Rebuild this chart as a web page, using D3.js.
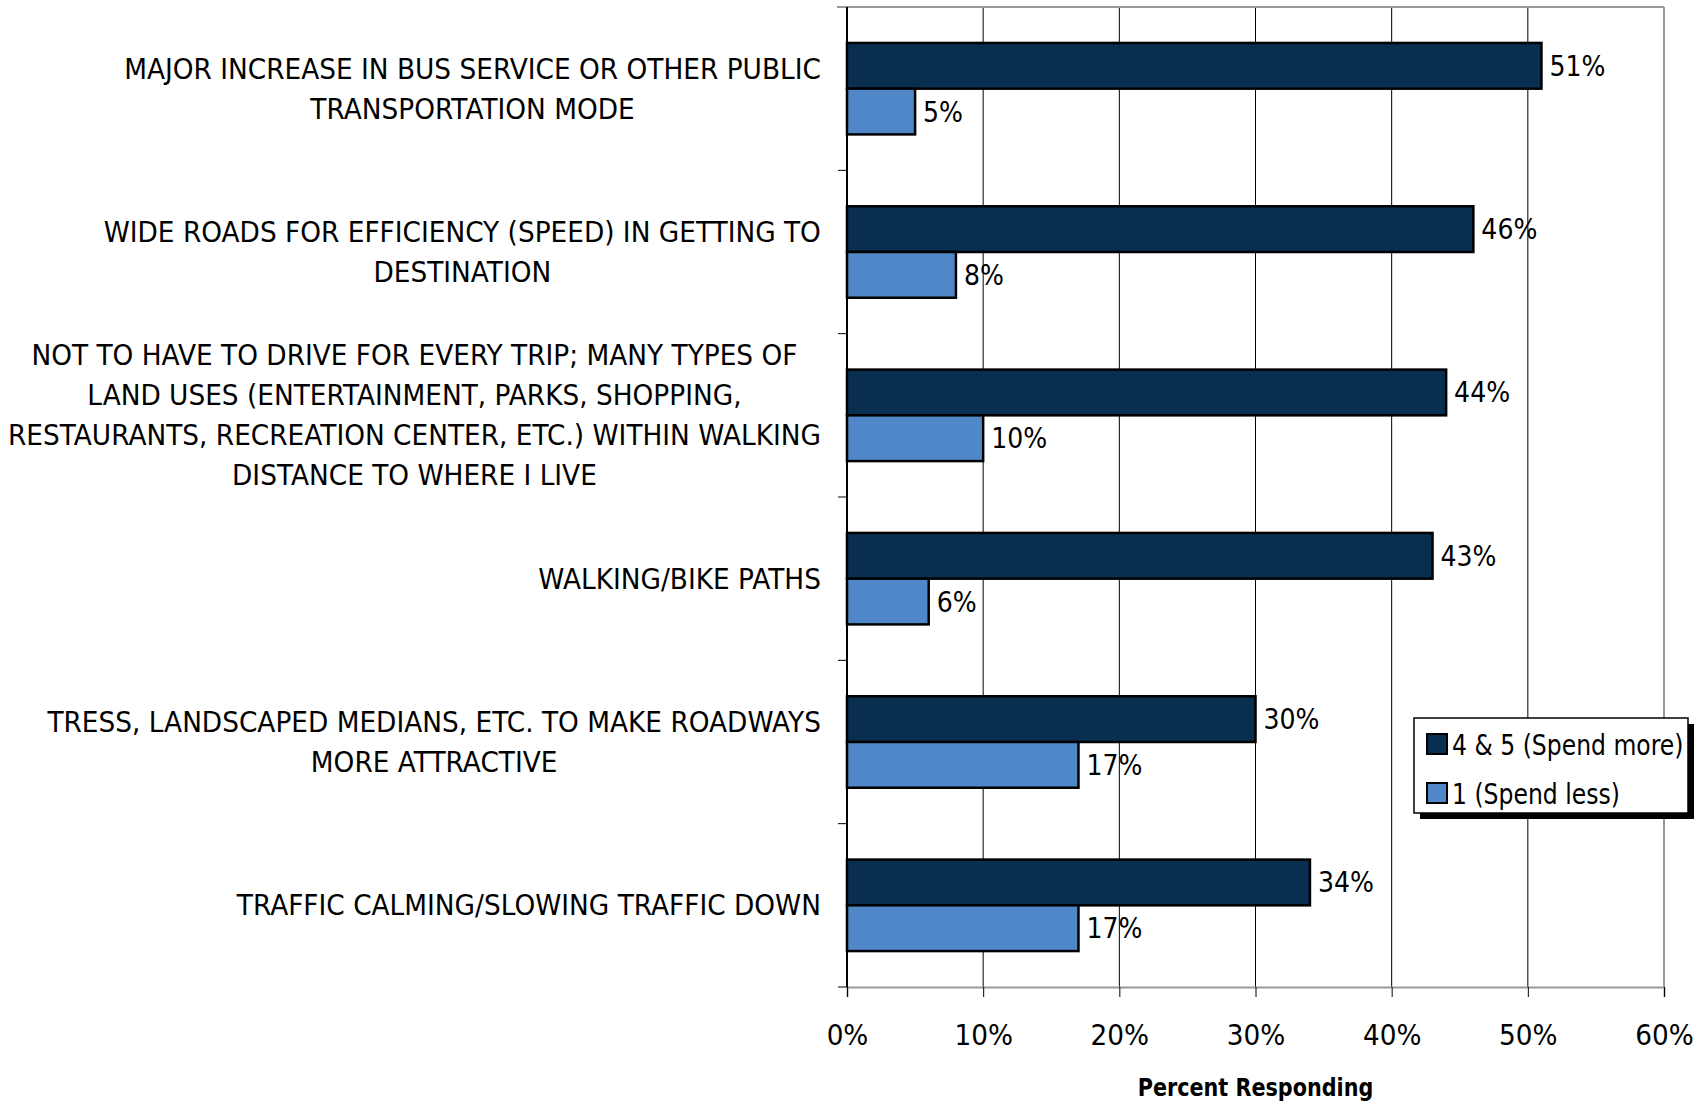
<!DOCTYPE html>
<html>
<head>
<meta charset="utf-8">
<script src="https://cdn.jsdelivr.net/npm/d3@7"></script>
<style>
  html, body { margin: 0; padding: 0; background: #fff; }
  svg { display: block; }
  text { font-family: "DejaVu Sans", sans-serif; fill: #000; }
</style>
</head>
<body>
<svg id="chart" width="1705" height="1105"></svg>
<script>
// Survey items (each entry is one wrapped label, line by line)
const categories = [
  ["MAJOR INCREASE IN BUS SERVICE OR OTHER PUBLIC", "TRANSPORTATION MODE"],
  ["WIDE ROADS FOR EFFICIENCY (SPEED) IN GETTING TO", "DESTINATION"],
  ["NOT TO HAVE TO DRIVE FOR EVERY TRIP; MANY TYPES OF", "LAND USES (ENTERTAINMENT, PARKS, SHOPPING,", "RESTAURANTS, RECREATION CENTER, ETC.) WITHIN WALKING", "DISTANCE TO WHERE I LIVE"],
  ["WALKING/BIKE PATHS"],
  ["TRESS, LANDSCAPED MEDIANS, ETC. TO MAKE ROADWAYS", "MORE ATTRACTIVE"],
  ["TRAFFIC CALMING/SLOWING TRAFFIC DOWN"]
];
const seriesNames = ["4 & 5 (Spend more)", "1 (Spend less)"];
const spendMore = [51, 46, 44, 43, 30, 34];
const spendLess = [5, 8, 10, 6, 17, 17];
const xTicks = [0, 10, 20, 30, 40, 50, 60];
const axisTitle = "Percent Responding";

const colors = ["#082e50", "#5087c8"];
const series = [spendMore, spendLess];

const svg = d3.select("#chart");
const plot = { left: 847, right: 1664, top: 7, bottom: 987 };

const keys = categories.map((c, i) => i);
const x = d3.scaleLinear().domain([0, 60]).range([plot.left, plot.right]);
const y = d3.scaleBand().domain(keys).range([plot.top, plot.bottom]).padding(0);
const bw = y.bandwidth();
const ySub = d3.scaleBand().domain([0, 1]).range([bw * 0.22, bw * 0.78]).padding(0);

// Horizontally squeeze a text node about its anchor point
function squeeze(sel, factor) {
  sel.each(function () {
    const t = d3.select(this);
    const ax = +t.attr("x"), ay = +t.attr("y");
    t.attr("transform", `translate(${ax},${ay}) scale(${factor},1) translate(${-ax},${-ay})`);
  });
}

// Gridlines
svg.append("g").selectAll("line")
  .data(xTicks.slice(1, -1))
  .join("line")
  .attr("x1", d => x(d)).attr("x2", d => x(d))
  .attr("y1", plot.top).attr("y2", plot.bottom)
  .attr("stroke", "#000").attr("stroke-width", 1);

// Frame: top and right in grey
svg.append("line")
  .attr("x1", plot.left - 10).attr("x2", plot.right)
  .attr("y1", plot.top).attr("y2", plot.top)
  .attr("stroke", "#999").attr("stroke-width", 2);
svg.append("line")
  .attr("x1", plot.right).attr("x2", plot.right)
  .attr("y1", plot.top).attr("y2", plot.bottom)
  .attr("stroke", "#999").attr("stroke-width", 2);

// Bars
const groups = svg.append("g").selectAll("g")
  .data(keys).join("g")
  .attr("transform", d => `translate(0,${y(d)})`);

groups.selectAll("rect")
  .data(i => series.map((s, k) => ({ k, v: s[i] })))
  .join("rect")
  .attr("x", x(0))
  .attr("y", d => ySub(d.k))
  .attr("width", d => x(d.v) - x(0))
  .attr("height", ySub.bandwidth())
  .attr("fill", d => colors[d.k])
  .attr("stroke", "#000").attr("stroke-width", 2.5);

// Value labels
const valLabels = groups.selectAll("text.val")
  .data(i => series.map((s, k) => ({ k, v: s[i] })))
  .join("text")
  .attr("class", "val")
  .attr("x", d => x(d.v) + 8)
  .attr("y", d => ySub(d.k) + ySub.bandwidth() / 2 + 10)
  .attr("font-size", 28)
  .text(d => d.v + "%");
squeeze(valLabels, 0.90);

// Bottom axis (grey line, black ticks)
const xAxis = svg.append("g")
  .attr("transform", `translate(0,${plot.bottom})`)
  .call(d3.axisBottom(x).tickValues(xTicks).tickSize(10).tickPadding(22).tickFormat(d => d + "%"));
xAxis.select(".domain").attr("stroke", "#999").attr("stroke-width", 2);
xAxis.selectAll(".tick line").attr("stroke", "#000");
xAxis.selectAll(".tick text")
  .attr("font-size", 28)
  .attr("font-family", "DejaVu Sans, sans-serif")
  .attr("x", 0).attr("y", 58).attr("dy", 0)
  .attr("transform", "scale(0.94,1)");

// Left axis with ticks at category boundaries
const yAxis = svg.append("g");
yAxis.append("line")
  .attr("x1", plot.left).attr("x2", plot.left)
  .attr("y1", plot.top).attr("y2", plot.bottom)
  .attr("stroke", "#000").attr("stroke-width", 2);
yAxis.selectAll("line.tk")
  .data(keys.map(k => y(k)).concat([plot.bottom]).slice(1))
  .join("line").attr("class", "tk")
  .attr("x1", plot.left - 9).attr("x2", plot.left)
  .attr("y1", d => d).attr("y2", d => d)
  .attr("stroke", "#000").attr("stroke-width", 1);

// Category labels: block right-aligned to the axis, lines centred within the block
const labelRight = 821;
const lineH = 40;
const labelFactor = 0.91;
const catG = svg.append("g");
categories.forEach((lines, i) => {
  const g = catG.append("g");
  const cy = y(i) + bw / 2;
  const texts = lines.map((ln, j) => g.append("text")
    .attr("font-size", 29)
    .attr("text-anchor", "middle")
    .attr("y", cy + (j - (lines.length - 1) / 2) * lineH + 10)
    .text(ln));
  const maxW = d3.max(texts, t => t.node().getComputedTextLength()) * labelFactor;
  texts.forEach(t => t.attr("x", labelRight - maxW / 2));
  texts.forEach(t => squeeze(t, labelFactor));
});

// Axis title
const title = svg.append("text")
  .attr("x", x(30)).attr("y", 1096)
  .attr("text-anchor", "middle")
  .attr("font-size", 25)
  .attr("font-weight", "bold")
  .text(axisTitle);
squeeze(title, 0.83);

// Legend with drop shadow
const lg = { x: 1414, y: 718, w: 274, h: 95 };
svg.append("rect")
  .attr("x", lg.x + 6).attr("y", lg.y + 6)
  .attr("width", lg.w).attr("height", lg.h)
  .attr("fill", "#000");
svg.append("rect")
  .attr("x", lg.x).attr("y", lg.y)
  .attr("width", lg.w).attr("height", lg.h)
  .attr("fill", "#fff").attr("stroke", "#000").attr("stroke-width", 1.5);
const items = svg.append("g").selectAll("g")
  .data(seriesNames).join("g")
  .attr("transform", (d, i) => `translate(${lg.x + 13},${lg.y + 27 + i * 49})`);
items.append("rect")
  .attr("x", 0).attr("y", -11).attr("width", 20).attr("height", 20)
  .attr("fill", (d, i) => colors[i]).attr("stroke", "#000").attr("stroke-width", 2);
const legText = items.append("text")
  .attr("x", 25).attr("y", 10)
  .attr("font-size", 28)
  .text(d => d);
squeeze(legText, 0.84);
</script>
</body>
</html>
